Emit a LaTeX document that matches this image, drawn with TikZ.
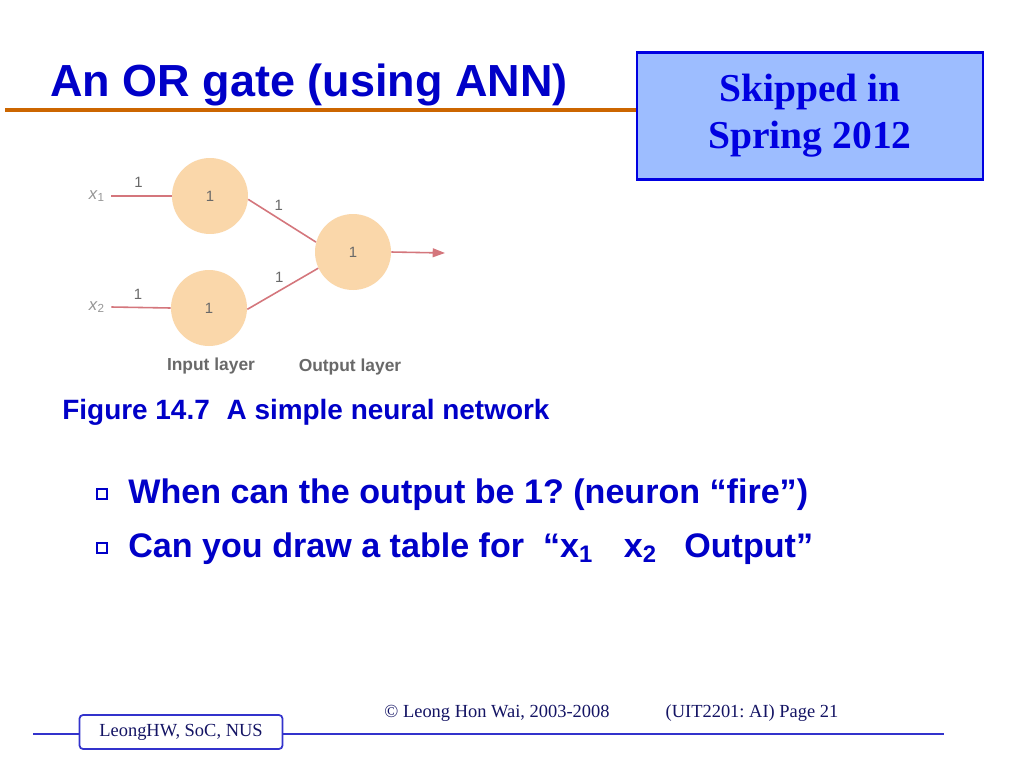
\documentclass[tikz,border=0pt]{standalone}
\usepackage{fontspec}
\setmainfont{Liberation Serif}
\setsansfont{Liberation Sans}
\usepackage{xcolor}
\usetikzlibrary{positioning,calc,arrows.meta}
\frenchspacing

\definecolor{slideblue}{RGB}{0,0,200}
\definecolor{skipfill}{RGB}{157,189,255}
\definecolor{skipblue}{RGB}{0,0,225}
\definecolor{ruleorange}{RGB}{204,102,0}
\definecolor{neuronfill}{RGB}{250,215,170}
\definecolor{linkred}{RGB}{212,118,124}
\definecolor{labelgray}{RGB}{105,105,105}
\definecolor{footblue}{RGB}{51,51,204}
\definecolor{foottext}{RGB}{20,20,100}

\begin{document}
\begin{tikzpicture}[x=0.02cm,y=-0.02cm,
    neuron/.style={circle, fill=neuronfill, minimum size=1.52cm, inner sep=0pt,
        font=\sffamily\fontsize{8.5}{8.5}\selectfont, text=labelgray},
    link/.style={draw=linkred, line width=0.9pt},
    weight/.style={font=\sffamily\fontsize{8.5}{8.5}\selectfont, text=labelgray},
    layername/.style={font=\sffamily\bfseries\fontsize{9.9}{10}\selectfont, text=labelgray},
    bullettext/.style={anchor=base west, text=slideblue, inner sep=0pt,
        font=\sffamily\bfseries\fontsize{19.4}{22}\selectfont},
    bulletbox/.style={draw=slideblue, line width=0.8pt, minimum size=0.2cm, inner sep=0pt},
    foottext/.style={text=foottext, font=\fontsize{10.5}{12}\selectfont}]
    \useasboundingbox[fill=white] (0,0) rectangle (1024,768);

    % Title
    \node[anchor=base west, inner sep=0pt, text=slideblue,
        font=\sffamily\bfseries\fontsize{25.6}{30}\selectfont] (title) at (50,96) {An OR gate (using ANN)};
    \node[draw=skipblue, line width=1.6pt, fill=skipfill, minimum width=6.92cm, minimum height=2.54cm,
        align=center, text=skipblue, font=\bfseries\fontsize{22.5}{26.7}\selectfont] (skip) at (810,116)
        {Skipped in\\Spring 2012};
    \coordinate (ruleL) at (5,110);
    \draw[ruleorange, line width=2.8pt] (ruleL) -- (ruleL -| skip.west);

    % Network
    \node[neuron] (in1) at (210,196) {1};
    \node[neuron] (in2) at (209,308) {1};
    \node[neuron] (out) at (353,252) {1};
    \foreach \i/\y in {1/196, 2/307} {
        \node[weight, text=labelgray!70, font=\sffamily\fontsize{9.5}{9.5}\selectfont] (x\i) at (97,\y) {\textit{x}\textsubscript{\i}};
        \draw[link] (x\i.east) -- (in\i.west) node[weight, pos=0.45, above=1pt] {1};
    }
    \draw[link] (in1.-5) -- (out.165) node[weight, pos=0.45, above=1pt] {1};
    \draw[link] (in2.-2) -- (out.205) node[weight, pos=0.45, above=1pt] {1};
    \coordinate (outend) at (445,253);
    \draw[link, -{Triangle[length=7pt,width=5pt]}] (out.east) -- (outend);
    \node[layername] (inlayer) at (211,366) {Input layer};
    \node[layername] (outlayer) at (350,367) {Output layer};

    % Caption
    \node[anchor=base west, inner sep=0pt, text=slideblue,
        font=\sffamily\bfseries\fontsize{15.9}{18}\selectfont] (caption) at (62,419)
        {Figure 14.7\hspace{0.6em}A simple neural network};

    % Bullets
    \node[bullettext] (q1) at (128,503) {When can the output be 1? (neuron “fire”)};
    \node[bullettext] (q2) at (128,557) {Can you draw a table for \ “x\textsubscript{1}\hspace{0.9em}x\textsubscript{2}\hspace{0.8em}Output”};
    \node[bulletbox] (b1) at (102,494) {};
    \node[bulletbox] (b2) at (102,548) {};

    % Footer
    \coordinate (footL) at (33,734);
    \coordinate (footR) at (944,734);
    \draw[footblue, line width=1.2pt] (footL) -- (footR);
    \node[draw=footblue, line width=1pt, fill=white, rounded corners=2pt, minimum width=4.06cm,
        minimum height=0.68cm, foottext] (author) at (181,732) {LeongHW, SoC, NUS};
    \node[foottext] (copy) at (497,713) {© Leong Hon Wai, 2003-2008};
    \node[foottext] (page) at (752,713) {(UIT2201: AI) Page 21};
\end{tikzpicture}
\end{document}
